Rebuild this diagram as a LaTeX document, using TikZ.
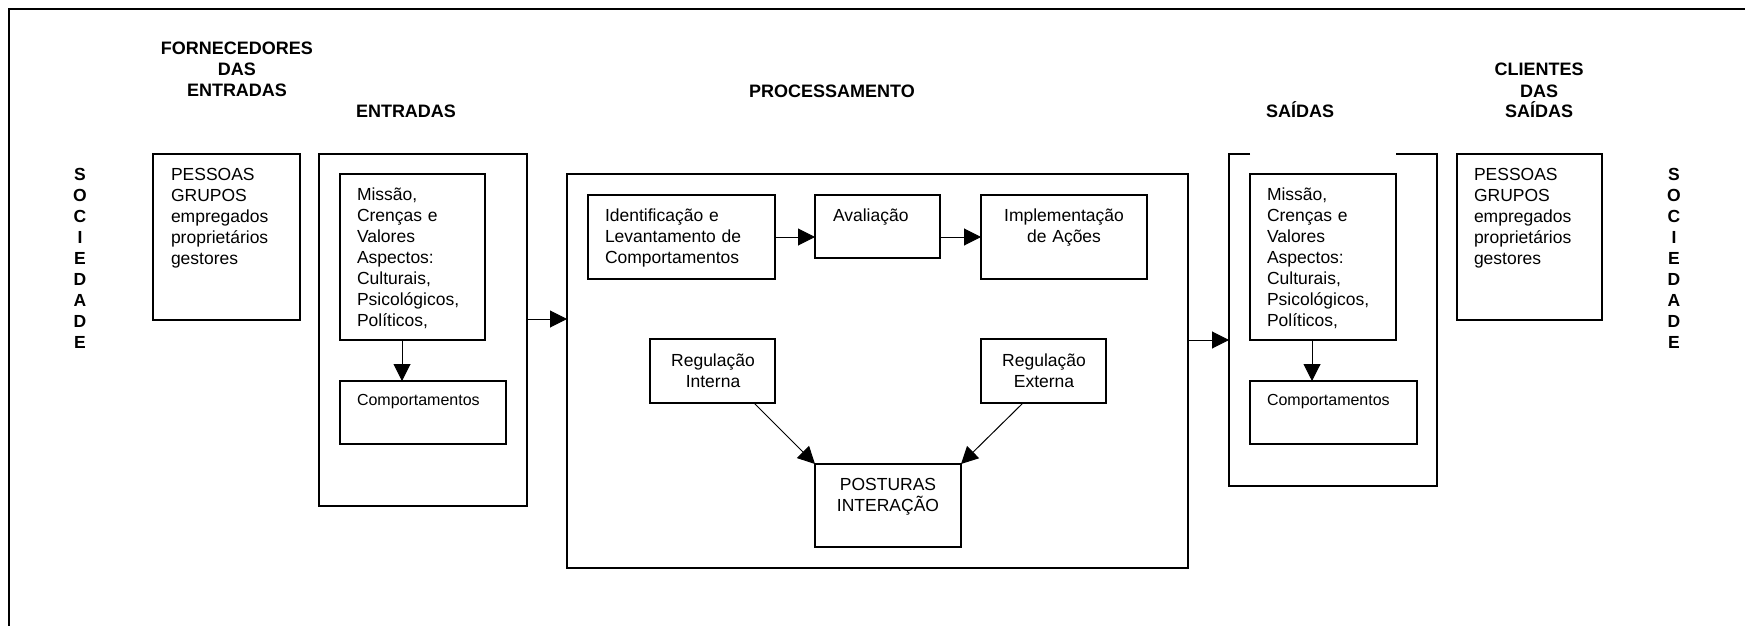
\documentclass[tikz,border=0pt]{standalone}
\usepackage{fontspec}
\setmainfont{Liberation Sans}
\usetikzlibrary{arrows.meta,calc}
\begin{document}
\begin{tikzpicture}[x=1pt,y=-1pt,
  box/.style={draw, line width=1.2pt, inner sep=0pt, outer sep=0pt, anchor=north west},
  hidbox/.style={inner sep=0pt, outer sep=0pt, anchor=north west},
  txt/.style={inner sep=0pt, outer sep=0pt, font=\fontsize{17.5}{21}\selectfont, text width=140pt, align=left, anchor=base west},
  ctxt/.style={inner sep=0pt, outer sep=0pt, font=\fontsize{17.5}{21}\selectfont, text width=160pt, align=center, anchor=base},
  stxt/.style={inner sep=0pt, outer sep=0pt, font=\fontsize{16}{20}\selectfont, text width=150pt, align=left, anchor=base west},
  ttl/.style={inner sep=0pt, outer sep=0pt, font=\bfseries\fontsize{18}{21}\selectfont, text width=200pt, align=center, anchor=base},
  soc/.style={inner sep=0pt, outer sep=0pt, font=\bfseries\fontsize{17.5}{21}\selectfont, text width=30pt, align=center, anchor=base},
  arr/.style={line width=1pt, -{Triangle[length=17pt,width=17pt]}}
]
\useasboundingbox (0,0) rectangle (1745,626);
% outer frame (top and left sides visible)
\draw[line width=1.2pt] (9,626) -- (9,9) -- (1745,9);

% side labels
\node[soc] (socl) at (80,180) {S\\O\\C\\I\\E\\D\\A\\D\\E};
\node[soc] (socr) at (1674,180) {S\\O\\C\\I\\E\\D\\A\\D\\E};

% titles
\node[ttl] (tforn) at (237,55) {FORNECEDORES\\DAS\\ENTRADAS};
\node[ttl] (tent) at (406,117) {ENTRADAS};
\node[ttl] (tproc) at (832,97) {PROCESSAMENTO};
\node[ttl] (tsai) at (1300,117) {SAÍDAS};
\node[ttl] (tcli) at (1539,76) {CLIENTES\\DAS\\SAÍDAS};

% left suppliers
\node[box, minimum width=147pt, minimum height=166pt] (pl) at (153,154) {};
\node[txt] (plt) at (171,180) {PESSOAS\\GRUPOS\\empregados\\proprietários\\gestores};

% entradas
\node[box, minimum width=208pt, minimum height=352pt] (eb) at (319,154) {};
\node[box, minimum width=145pt, minimum height=166pt] (ml) at (340,174) {};
\node[txt] (mlt) at (357,200) {Missão,\\Crenças e\\Valores\\Aspectos:\\Culturais,\\Psicológicos,\\Políticos,};
\node[box, minimum width=166pt, minimum height=63pt] (cl) at (340,381) {};
\node[stxt] (clt) at (357,405) {Comportamentos};
\draw[arr] ([xshift=62pt]ml.south west) -- ([xshift=62pt]cl.north west);

% processamento
\node[box, minimum width=621pt, minimum height=394pt] (pb) at (567,174) {};
\draw[arr] ([yshift=-165pt]eb.north east) -- ([yshift=-145pt]pb.north west);

\node[box, minimum width=187pt, minimum height=84pt] (id) at (588,195) {};
\node[txt, text width=180pt] (idt) at (605,221) {Identificação e\\Levantamento de\\Comportamentos};
\node[box, minimum width=125pt, minimum height=63pt] (av) at (815,195) {};
\node[txt] (avt) at (833,221) {Avaliação};
\node[box, minimum width=166pt, minimum height=84pt] (im) at (981,195) {};
\node[ctxt] (imt) at (1064,221) {Implementação\\de Ações};
\draw[arr] (id.east) -- (id.east -| av.west);
\draw[arr] (av.east |- im.west) -- (im.west);

\node[box, minimum width=125pt, minimum height=64pt] (ri) at (650,339) {};
\node[ctxt] (rit) at (713,366) {Regulação\\Interna};
\node[box, minimum width=125pt, minimum height=64pt] (re) at (981,339) {};
\node[ctxt] (ret) at (1044,366) {Regulação\\Externa};
\node[box, minimum width=146pt, minimum height=83pt] (po) at (815,464) {};
\node[ctxt] (pot) at (888,490) {POSTURAS\\INTERAÇÃO};
\draw[arr] ([xshift=-21pt]ri.south east) -- (po.north west);
\draw[arr] ([xshift=42pt]re.south west) -- (po.north east);

% saidas
\node[hidbox, minimum width=208pt, minimum height=332pt] (so) at (1229,154) {};
\draw[line width=1.2pt] ([xshift=21pt]so.north west) -- (so.north west) -- (so.south west) -- (so.south east) -- (so.north east) -- ([xshift=-41pt]so.north east);
\draw[arr] ([yshift=-166pt]pb.north east) -- ([yshift=-186pt]so.north west);
\node[box, minimum width=146pt, minimum height=166pt] (mr) at (1250,174) {};
\node[txt] (mrt) at (1267,200) {Missão,\\Crenças e\\Valores\\Aspectos:\\Culturais,\\Psicológicos,\\Políticos,};
\node[box, minimum width=167pt, minimum height=63pt] (cr) at (1250,381) {};
\node[stxt] (crt) at (1267,405) {Comportamentos};
\draw[arr] ([xshift=62pt]mr.south west) -- ([xshift=62pt]cr.north west);

% right clients
\node[box, minimum width=145pt, minimum height=166pt] (pr) at (1457,154) {};
\node[txt] (prt) at (1474,180) {PESSOAS\\GRUPOS\\empregados\\proprietários\\gestores};
\end{tikzpicture}
\end{document}
